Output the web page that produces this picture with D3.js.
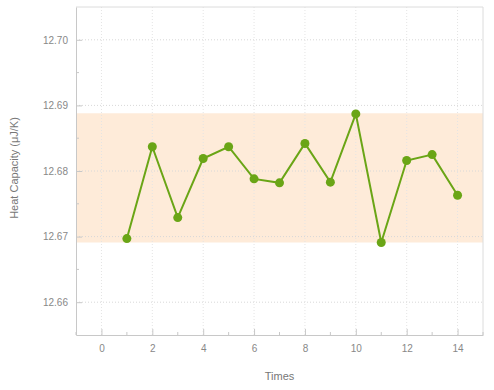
<!DOCTYPE html>
<html>
<head>
<meta charset="utf-8">
<script src="https://cdn.jsdelivr.net/npm/d3@7"></script>
<style>
  body { margin: 0; background: #fff; }
  text { font-family: "Liberation Sans", Arial, sans-serif; }
</style>
</head>
<body>
<svg id="chart"></svg>
<script>
const width = 494;
const height = 390;

// data
const times = [1, 2, 3, 4, 5, 6, 7, 8, 9, 10, 11, 12, 13, 14];
const heatCapacity = [12.6697, 12.6837, 12.6729, 12.6819, 12.6837, 12.6788, 12.6782,
                      12.6842, 12.6783, 12.6887, 12.6691, 12.6816, 12.6825, 12.6763];
const bandRange = [12.6691, 12.6888];
const xTicks = [0, 2, 4, 6, 8, 10, 12, 14];
const yTicks = [12.66, 12.67, 12.68, 12.69, 12.70];

const margin = { top: 7, right: 11, bottom: 55, left: 76 };
const innerW = width - margin.left - margin.right;
const innerH = height - margin.top - margin.bottom;

const svg = d3.select('#chart')
  .attr('width', width)
  .attr('height', height);

const g = svg.append('g')
  .attr('transform', `translate(${margin.left},${margin.top})`);

const x = d3.scaleLinear().domain([-1, 15]).range([0, innerW]);
const y = d3.scaleLinear().domain([12.655, 12.705]).range([innerH, 0]);

// band between min and max
g.append('rect')
  .attr('x', 0)
  .attr('width', innerW)
  .attr('y', y(bandRange[1]))
  .attr('height', y(bandRange[0]) - y(bandRange[1]))
  .attr('fill', '#feebd9');

// grid lines (dotted)
g.selectAll('.ygrid')
  .data(yTicks)
  .enter().append('line')
  .attr('x1', 0).attr('x2', innerW)
  .attr('y1', d => y(d)).attr('y2', d => y(d))
  .attr('stroke', '#d8d8d8')
  .attr('stroke-dasharray', '1,2');

g.selectAll('.xgrid')
  .data(xTicks)
  .enter().append('line')
  .attr('y1', 0).attr('y2', innerH)
  .attr('x1', d => x(d)).attr('x2', d => x(d))
  .attr('stroke', '#e4e4e4')
  .attr('stroke-dasharray', '1,2');

// frame: top and right lighter
g.append('line')
  .attr('x1', 0).attr('x2', innerW).attr('y1', 0).attr('y2', 0)
  .attr('stroke', '#dcdcdc');
g.append('line')
  .attr('x1', innerW).attr('x2', innerW).attr('y1', 0).attr('y2', innerH)
  .attr('stroke', '#dcdcdc');

// axes with inner ticks
const xAxis = g.append('g')
  .attr('transform', `translate(0,${innerH})`)
  .call(d3.axisBottom(x).tickValues(xTicks).tickSize(-6).tickPadding(10).tickSizeOuter(0));

// minor x ticks
g.selectAll('.xminor')
  .data(d3.range(-1, 16, 2))
  .enter().append('line')
  .attr('x1', d => x(d)).attr('x2', d => x(d))
  .attr('y1', innerH).attr('y2', innerH - 3)
  .attr('stroke', '#c8c8c8');

const yAxis = g.append('g')
  .call(d3.axisLeft(y).tickValues(yTicks).tickFormat(d3.format('.2f'))
    .tickSize(-6).tickPadding(8).tickSizeOuter(0));

g.selectAll('.yminor')
  .data([12.665, 12.675, 12.685, 12.695])
  .enter().append('line')
  .attr('x1', 0).attr('x2', 3)
  .attr('y1', d => y(d)).attr('y2', d => y(d))
  .attr('stroke', '#c8c8c8');

[xAxis, yAxis].forEach(ax => {
  ax.select('.domain').attr('stroke', '#c8c8c8');
  ax.selectAll('.tick line').attr('stroke', '#c8c8c8');
  ax.selectAll('.tick text')
    .attr('fill', '#888')
    .style('font-size', '10px');
});

// line + points
const line = d3.line()
  .x((d, i) => x(times[i]))
  .y(d => y(d));

g.append('path')
  .datum(heatCapacity)
  .attr('d', line)
  .attr('fill', 'none')
  .attr('stroke', '#6aa516')
  .attr('stroke-width', 2);

g.selectAll('.pt')
  .data(heatCapacity)
  .enter().append('circle')
  .attr('cx', (d, i) => x(times[i]))
  .attr('cy', d => y(d))
  .attr('r', 4.5)
  .attr('fill', '#6aa516');

// axis titles
svg.append('text')
  .attr('x', margin.left + innerW / 2)
  .attr('y', 380)
  .attr('text-anchor', 'middle')
  .attr('fill', '#777')
  .style('font-size', '11px')
  .text('Times');

svg.append('text')
  .attr('transform', `translate(18,${margin.top + innerH / 2 - 3}) rotate(-90)`)
  .attr('text-anchor', 'middle')
  .attr('fill', '#777')
  .style('font-size', '11px')
  .text('Heat Capacity (μJ/K)');
</script>
</body>
</html>
